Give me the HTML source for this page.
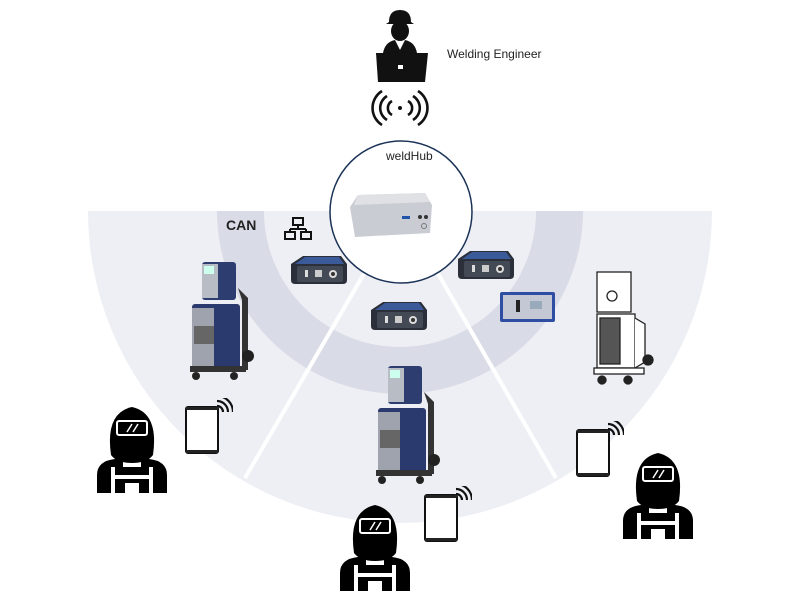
<!DOCTYPE html>
<html><head><meta charset="utf-8"><style>
html,body{margin:0;padding:0;background:#fff;width:800px;height:600px;overflow:hidden}
svg{display:block}
text{font-family:"Liberation Sans",sans-serif}
</style></head><body>
<svg width="800" height="600" viewBox="0 0 800 600" xmlns="http://www.w3.org/2000/svg">
<defs>
<symbol id="worker" viewBox="0 0 70 88" width="70" height="88">
  <path d="M14 50 Q8 8 35 2 Q62 8 56 50 Q50 58 35 58 Q20 58 14 50Z" fill="#000"/>
  <rect x="20" y="16" width="30" height="14" rx="2" fill="none" stroke="#fff" stroke-width="2"/>
  <path d="M30 27 L35 19 M36 27 L41 19" stroke="#fff" stroke-width="1.5"/>
  <path d="M0 88 L0 70 Q0 56 18 54 L26 54 L26 62 L44 62 L44 54 L52 54 Q70 56 70 70 L70 88Z" fill="#000"/>
  <rect x="14" y="62" width="4" height="26" fill="#fff"/>
  <rect x="52" y="62" width="4" height="26" fill="#fff"/>
  <rect x="18" y="70" width="34" height="4" fill="#fff"/>
  <rect x="28" y="78" width="14" height="10" fill="#fff"/>
</symbol>
<symbol id="tablet" viewBox="0 0 48 56" width="48" height="56">
  <rect x="1" y="9" width="32" height="46" rx="2" fill="#fff" stroke="#111" stroke-width="2"/>
  <rect x="1" y="9" width="32" height="3" fill="#222"/>
  <rect x="1" y="52" width="32" height="3" fill="#222"/>
  <path d="M32 8 A6 6 0 0 1 38 14" stroke="#111" stroke-width="2.2" fill="none"/>
  <path d="M32 3 A11 11 0 0 1 43 14" stroke="#111" stroke-width="2.2" fill="none"/>
  <path d="M32 -2 A16 16 0 0 1 48 14" stroke="#111" stroke-width="2.2" fill="none"/>
</symbol>
<symbol id="gw" viewBox="0 0 60 32" width="60" height="32">
  <path d="M2 10 L14 2 L52 2 L58 10 L58 26 Q58 30 54 30 L6 30 Q2 30 2 26Z" fill="#2b2f3a"/>
  <path d="M6 10 L16 3 L50 3 L55 10Z" fill="#3b5a9a"/>
  <rect x="8" y="12" width="46" height="16" rx="2" fill="#444a55"/>
  <rect x="26" y="16" width="7" height="7" fill="#ccc"/>
  <circle cx="44" cy="20" r="4" fill="#ddd"/><circle cx="44" cy="20" r="2" fill="#333"/>
  <rect x="16" y="16" width="3" height="7" fill="#ddd"/>
</symbol>
<symbol id="mach" viewBox="0 0 66 122" width="66" height="122">
  <path d="M48 30 L58 40 L58 112 L52 112 L52 42Z" fill="#333"/>
  <circle cx="58" cy="98" r="6" fill="#222"/>
  <rect x="12" y="4" width="34" height="38" rx="3" fill="#2d3d70"/>
  <rect x="12" y="6" width="16" height="34" fill="#b8bcc4"/>
  <rect x="14" y="8" width="10" height="8" fill="#cfe"/>
  <rect x="2" y="46" width="48" height="66" rx="3" fill="#2b3a6e"/>
  <rect x="2" y="50" width="22" height="60" fill="#9ea3ad"/>
  <rect x="4" y="68" width="20" height="18" fill="#666"/>
  <rect x="0" y="108" width="56" height="6" fill="#333"/>
  <circle cx="6" cy="118" r="4" fill="#222"/><circle cx="44" cy="118" r="4" fill="#222"/>
</symbol>
</defs>

<!-- bands -->
<path d="M88 211 L712 211 A312 312 0 0 1 88 211Z" fill="#eeeff4"/>
<path d="M217 211 L583 211 A183 183 0 0 1 217 211Z" fill="#d9dbe6"/>
<path d="M264 211 L536 211 A136 136 0 0 1 264 211Z" fill="#eeeff4"/>
<line x1="365" y1="272" x2="245" y2="478" stroke="#fff" stroke-width="4"/>
<line x1="437" y1="272" x2="556" y2="478" stroke="#fff" stroke-width="4"/>

<!-- weldHub circle -->
<circle cx="401" cy="212" r="71" fill="#fff" stroke="#1c3358" stroke-width="1.5"/>
<text x="386" y="160" font-size="12" fill="#222">weldHub</text>
<path d="M350 207 L358 195 L425 193 L432 205 L430 233 L355 237 Z" fill="#c9ccd2"/>
<path d="M358 195 L425 193 L430 202 L354 205Z" fill="#dfe1e5"/>
<rect x="402" y="216" width="8" height="3" fill="#2255aa"/>
<circle cx="420" cy="217" r="2" fill="#333"/><circle cx="426" cy="217" r="2" fill="#333"/>
<circle cx="424" cy="226" r="2.5" fill="none" stroke="#777"/>

<!-- engineer -->
<path d="M389 22 Q389 10 400 10 Q411 10 411 22 L414 24 L386 24Z" fill="#111"/>
<ellipse cx="400" cy="31" rx="9" ry="10" fill="#111"/>
<path d="M383 53 Q385 42 395 40 L400 50 L405 40 Q415 42 417 53Z" fill="#111"/>
<path d="M376 53 L428 53 L425 82 L378 82Z" fill="#111"/>
<rect x="398" y="65" width="5" height="4" fill="#fff"/>
<g stroke="#111" stroke-width="2.6" fill="none">
<path d="M392 101 A8 8 0 0 0 392 115"/><path d="M408 101 A8 8 0 0 1 408 115"/>
<path d="M387 96 A14 14 0 0 0 387 120"/><path d="M413 96 A14 14 0 0 1 413 120"/>
<path d="M382 91 A20 20 0 0 0 382 125"/><path d="M418 91 A20 20 0 0 1 418 125"/>
</g>
<circle cx="400" cy="108" r="2" fill="#111"/>
<text x="447" y="58" font-size="12" fill="#222">Welding Engineer</text>

<!-- CAN -->
<text x="226" y="230" font-size="14" fill="#222" font-weight="bold">CAN</text>
<g fill="none" stroke="#111" stroke-width="2">
<rect x="293" y="218" width="10" height="7"/><rect x="285" y="232" width="10" height="7"/><rect x="301" y="232" width="10" height="7"/>
<path d="M298 225 V229 M290 229 H306 M290 229 V232 M306 229 V232"/>
</g>

<!-- gateways -->
<use href="#gw" x="289" y="254"/>
<use href="#gw" x="456" y="249"/>
<use href="#gw" x="369" y="300"/>
<rect x="500" y="292" width="55" height="30" rx="2" fill="#2e4da3"/>
<rect x="503" y="295" width="49" height="24" fill="#c3c8d4"/>
<rect x="530" y="301" width="12" height="8" fill="#9ab"/>
<rect x="516" y="300" width="4" height="12" fill="#222"/>

<!-- machines -->
<use href="#mach" x="190" y="258"/>
<use href="#mach" x="376" y="362"/>
<g stroke="#222" stroke-width="1.3" fill="#fff">
<rect x="597" y="272" width="34" height="40"/>
<rect x="597" y="314" width="38" height="54"/>
<rect x="600" y="318" width="20" height="46" fill="#555"/>
<path d="M635 318 L645 324 L645 362 L635 368"/>
<rect x="594" y="368" width="50" height="6"/>
<circle cx="602" cy="380" r="4" fill="#222"/><circle cx="628" cy="380" r="4" fill="#222"/><circle cx="648" cy="360" r="5" fill="#222"/>
<circle cx="612" cy="296" r="5"/>
</g>

<!-- workers and tablets -->
<use href="#worker" x="97" y="405"/>
<use href="#worker" x="340" y="503"/>
<use href="#worker" x="623" y="451"/>
<use href="#tablet" x="185" y="398"/>
<use href="#tablet" x="424" y="486"/>
<use href="#tablet" x="576" y="421"/>
</svg>
</body></html>
